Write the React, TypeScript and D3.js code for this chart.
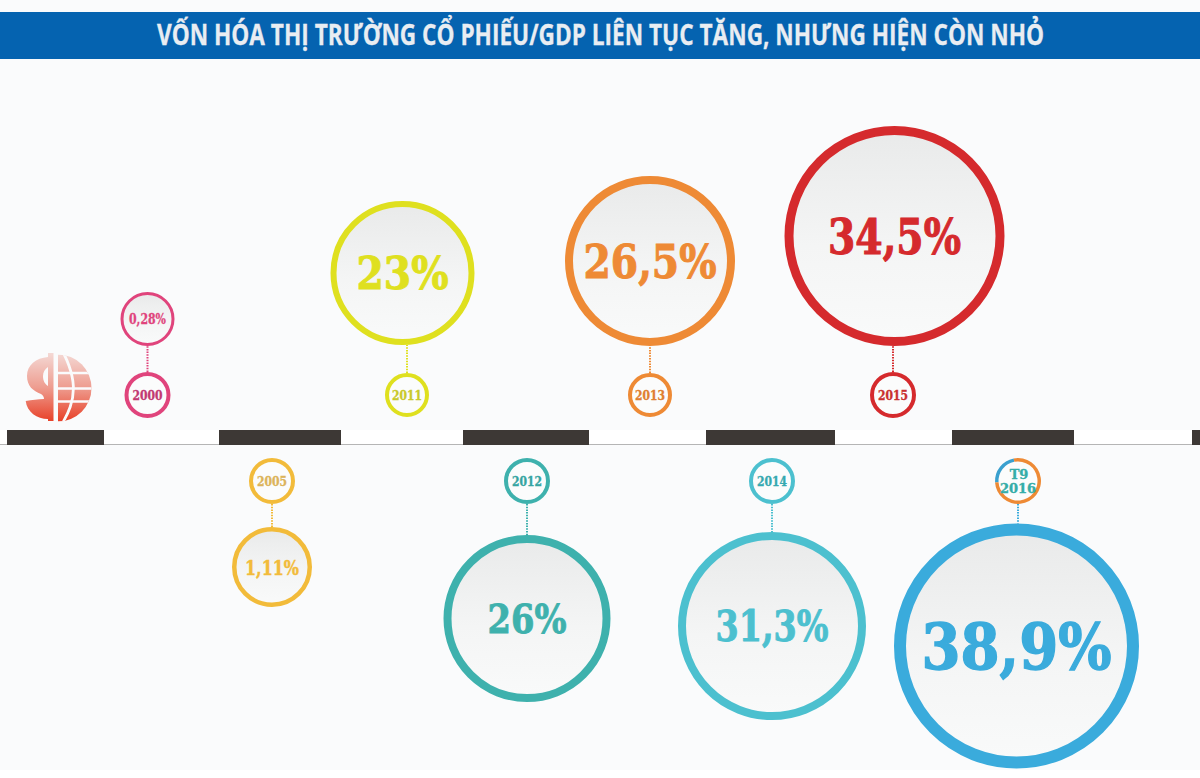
import React from "react";
import * as d3 from "d3";

const title = "VỐN HÓA THỊ TRƯỜNG CỔ PHIẾU/GDP LIÊN TỤC TĂNG, NHƯNG HIỆN CÒN NHỎ";
const years = ["2000", "2005", "2011", "2012", "2013", "2014", "2015", "T9 2016"];
const values = [0.28, 1.11, 23, 26, 26.5, 31.3, 34.5, 38.9];
const valueLabels = ["0,28%", "1,11%", "23%", "26%", "26,5%", "31,3%", "34,5%", "38,9%"];
const colours = ["#e0447c", "#f2bb3a", "#dfe01f", "#3eb1ad", "#ee8a35", "#4cc0cf", "#d52a2d", "#3aabdc"];
const yearTextColours = ["#c23a72", "#dcb45a", "#c9c92a", "#35a5a2", "#e07f30", "#35a9b0", "#c9302f", "#35ada8"];

// layout
const W = 1200, H = 778;
const xs = [147.5, 272, 407, 527, 650, 772, 893, 1018];
const bubbleX = [147.5, 272, 402.5, 527, 650, 772, 894.5, 1016.5];
const bubbleR = [27, 40, 72, 83.5, 85, 94, 110, 122.5];
const strokeW = [3, 4.5, 6, 8, 8, 8, 9, 12];
const fontSize = [14.5, 21, 45, 40, 47, 42, 49, 64];
const textW = [37, 54, 92, 79, 133, 113, 133, 190];
const bubbleCy = [319, 567, 273, 618.5, 261, 626, 236, 646];
const above = [true, false, true, false, true, false, true, false];
const yearR = [23, 23, 22, 23, 22, 23, 23, 23];
const bands = [[7, 104], [219, 341], [463, 589], [706, 835], [952, 1074], [1192, 1200]];

const xYear = d3.scaleOrdinal<string, number>().domain(years).range(xs);
const xBubble = d3.scaleOrdinal<string, number>().domain(years).range(bubbleX);
const rScale = d3.scaleLinear().domain(values).range(bubbleR);
const axisY = 430;
const axisH = 14;
const SERIF = "'DejaVu Serif', 'Liberation Serif', serif";

const blueArc = d3.arc()({ innerRadius: 19.5, outerRadius: 23, startAngle: -Math.PI * 0.52, endAngle: -Math.PI * 0.06 })!;
const orangeArc = d3.arc()({ innerRadius: 19.5, outerRadius: 23, startAngle: -Math.PI * 0.06, endAngle: Math.PI * 1.48 })!;

function Icon() {
  const cx = 58, cy = 388, r = 33.5;
  const meridian = d3.line().curve(d3.curveBasis);
  return (
    <g>
      <defs>
        <clipPath id="globeClip">
          <path d={`M${cx},${cy - r} A${r},${r} 0 0 1 ${cx},${cy + r} Z`} />
        </clipPath>
      </defs>
      <g clipPath="url(#globeClip)">
        <rect x={cx} y={cy - r} width={r + 2} height={2 * r} fill="url(#iconGrad)" />
        {[-15, 0.5, 13.5].map((d) => (
          <line key={d} x1={cx} x2={cx + r + 2} y1={cy + d} y2={cy + d} stroke="#fafbfc" strokeWidth={2.4} />
        ))}
        <path
          d={meridian([[cx + 5, cy - 36], [cx + 11, cy - 24], [cx + 17, cy - 2], [cx + 13, cy + 20], [cx + 4, cy + 36]] as [number, number][])!}
          fill="none" stroke="#fafbfc" strokeWidth={2.8}
        />
      </g>
      <rect x={48} y={353} width={5.5} height={68} fill="url(#iconGrad)" />
      <path
        d={`M48,357 C36,358 27,365 27,376 C27,386 33,391 41,394 C43,395 44,397 44,399 C38,399 32,400 25.7,401
            C27,412 37,419 48,419 L48,386 C45,384 43,381 43,376 C43,372 45,369 48,367 Z`}
        fill="url(#iconGrad)"
      />
    </g>
  );
}

export default function App() {
  return (
    <svg width={W} height={H} viewBox={`0 0 ${W} ${H}`} style={{ position: "absolute", left: 0, top: 0, display: "block" }}>
      <defs>
        <linearGradient id="disc" x1="0" y1="0" x2="0" y2="1">
          <stop offset="0" stopColor="#e9eaea" />
          <stop offset="0.55" stopColor="#f4f5f5" />
          <stop offset="1" stopColor="#f9fafa" />
        </linearGradient>
        <linearGradient id="iconGrad" gradientUnits="userSpaceOnUse" x1="0" y1="353" x2="0" y2="422">
          <stop offset="0" stopColor="#f4d9d5" />
          <stop offset="0.5" stopColor="#ee9d90" />
          <stop offset="1" stopColor="#e83f26" />
        </linearGradient>
      </defs>
      <rect width={W} height={H} fill="#fafbfc" />
      <rect x={0} y={770} width={W} height={8} fill="#ffffff" />
      <rect x={0} y={12} width={W} height={47} fill="#0563b0" />
      <g transform="translate(600.5,45) scale(0.781,1)">
        <text
          x={0} y={0} textAnchor="middle" fill="#e9edf2" stroke="#e9edf2" strokeWidth={0.3}
          fontSize={29} fontWeight={700} fontFamily="'Open Sans', sans-serif"
        >
          {title}
        </text>
      </g>

      <rect x={0} y={axisY} width={W} height={axisH} fill="#ffffff" />
      <line x1={0} x2={W} y1={axisY + axisH + 0.5} y2={axisY + axisH + 0.5} stroke="#b5b5b5" />
      {bands.map(([a, b]) => (
        <rect key={a} x={a} y={axisY} width={b - a} height={axisH + 1} fill="#3d3835" />
      ))}

      <Icon />

      {years.map((year, i) => {
        const up = above[i];
        const x = xYear(year);
        const bx = xBubble(year);
        const yr = yearR[i];
        const yy = up ? 395 : 481;
        const r = rScale(values[i]);
        const cy = bubbleCy[i];
        const c = colours[i];
        const sw = strokeW[i];
        const lineFrom = up ? yy - yr : yy + yr;
        const lineTo = up ? cy + r : cy - r;
        const isT9 = year.startsWith("T9");
        return (
          <g key={year}>
            <line x1={x} x2={x} y1={lineFrom} y2={lineTo} stroke={c} strokeWidth={2} strokeDasharray="1.5 1.2" />
            <circle cx={x} cy={yy} r={yr - 2} fill="#fbfcfc" stroke={isT9 ? "none" : c} strokeWidth={4} />
            {isT9 && (
              <g transform={`translate(${x},${yy})`}>
                <path d={blueArc} fill="#3aa0cf" />
                <path d={orangeArc} fill="#ee8a35" />
              </g>
            )}
            {isT9 ? (
              <text textAnchor="middle" fontFamily={SERIF} fontWeight={700} fontSize={13} fill={yearTextColours[i]} stroke={yearTextColours[i]} strokeWidth={0.35}>
                <tspan x={x + 1} y={yy - 2}>T9</tspan>
                <tspan x={x} y={yy + 12}>2016</tspan>
              </text>
            ) : (
              <text x={x} y={yy + 4.5} textAnchor="middle" fontFamily={SERIF} fontWeight={700} fontSize={13}
                fill={yearTextColours[i]} stroke={yearTextColours[i]} strokeWidth={0.35}
                textLength={30} lengthAdjust="spacingAndGlyphs">
                {year}
              </text>
            )}
            <circle cx={bx} cy={cy} r={r - sw / 2} fill="url(#disc)" stroke={c} strokeWidth={sw} />
            <text
              x={bx} y={cy + fontSize[i] * 0.365} textAnchor="middle"
              fontFamily={SERIF} fontWeight={700} fontSize={fontSize[i]} fill={c}
              stroke={c} strokeWidth={fontSize[i] * 0.022}
              textLength={textW[i]} lengthAdjust="spacingAndGlyphs"
            >
              {valueLabels[i]}
            </text>
          </g>
        );
      })}
    </svg>
  );
}
